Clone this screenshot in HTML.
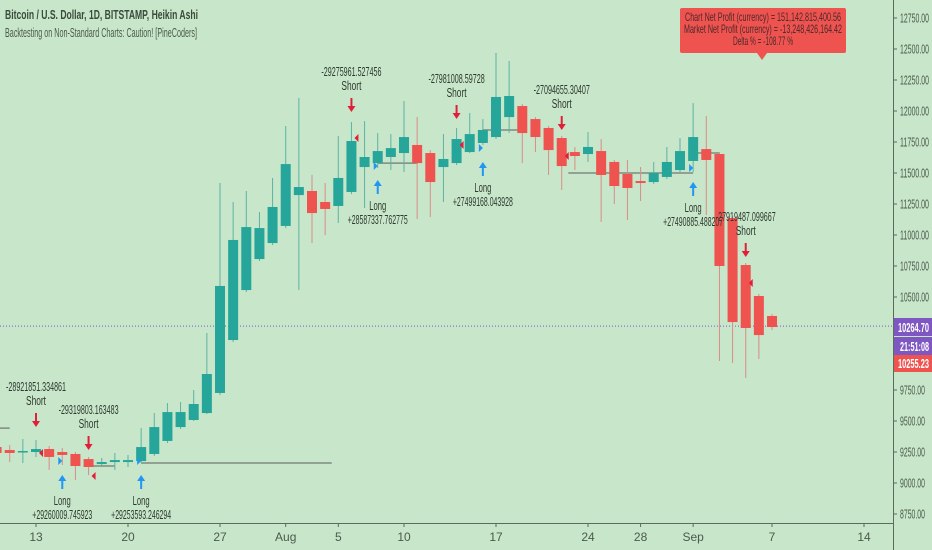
<!DOCTYPE html>
<html><head><meta charset="utf-8"><style>
html,body{margin:0;padding:0;background:#c8e6c9;}
svg{display:block;font-family:"Liberation Sans",sans-serif;}
</style></head><body>
<svg id="chart" width="932" height="550" xmlns="http://www.w3.org/2000/svg">
<rect x="0" y="0" width="932" height="550" fill="#c8e6c9"/>
<g id="plot"></g>
<g id="ann"></g>
<line x1="893.5" y1="0" x2="893.5" y2="550" stroke="#5d6b5e" stroke-width="1"/>
<line x1="0" y1="523.5" x2="893" y2="523.5" stroke="#5d6b5e" stroke-width="1"/>
<g id="yaxis"></g>
<g id="xaxis"></g>
<text x="5" y="19" font-size="13" font-weight="bold" fill="#3a4a3c" textLength="193" lengthAdjust="spacingAndGlyphs">Bitcoin / U.S. Dollar, 1D, BITSTAMP, Heikin Ashi</text>
<text x="5" y="37" font-size="13" fill="#4b5a4d" textLength="192" lengthAdjust="spacingAndGlyphs">Backtesting on Non-Standard Charts: Caution! [PineCoders]</text>
<g>
<rect x="680" y="8" width="166" height="45" rx="2" fill="#ef5350"/>
<polygon points="757,53 767,53 762,60" fill="#ef5350"/>
<text x="763" y="21" font-size="12" fill="#4a2a2a" text-anchor="middle" textLength="156" lengthAdjust="spacingAndGlyphs">Chart Net Profit (currency) = 151,142,815,400.56</text>
<text x="763" y="33" font-size="12" fill="#4a2a2a" text-anchor="middle" textLength="158" lengthAdjust="spacingAndGlyphs">Market Net Profit (currency) = -13,248,426,164.42</text>
<text x="763" y="45" font-size="12" fill="#4a2a2a" text-anchor="middle" textLength="60" lengthAdjust="spacingAndGlyphs">Delta % = -108.77 %</text>
</g>
<g>
<rect x="894" y="318" width="38" height="18" fill="#7e57c2"/>
<text x="898" y="332" font-size="13" font-weight="bold" fill="#fff" textLength="31" lengthAdjust="spacingAndGlyphs">10264.70</text>
<rect x="894" y="337" width="38" height="18" fill="#7e57c2"/>
<text x="900" y="351" font-size="13" font-weight="bold" fill="#fff" textLength="29" lengthAdjust="spacingAndGlyphs">21:51:08</text>
<rect x="894" y="355" width="38" height="17" fill="#ef5350"/>
<text x="898" y="368" font-size="13" font-weight="bold" fill="#fff" textLength="31" lengthAdjust="spacingAndGlyphs">10255.23</text>
</g>
</svg>
<script>
// Data: day index (0 = Jul 13), open, high, low, close
const days   = [-3,-2,-1,0,1,2,3,4,5,6,7,8,9,10,11,12,13,14,15,16,17,18,19,20,21,22,23,24,25,26,27,28,29,30,31,32,33,34,35,36,37,38,39,40,41,42,43,44,45,46,47,48,49,50,51,52,53,54,55,56];
const opens  = [9290,9266,9250,9250,9274,9250,9234,9193,9153,9169,9169,9177,9234,9339,9451,9508,9564,9726,10153,10556,10806,10935,11073,11322,11355,11266,11234,11347,11548,11580,11629,11661,11726,11661,11548,11580,11669,11742,11790,11951,12040,11935,11863,11782,11669,11653,11677,11589,11492,11435,11427,11468,11524,11597,11693,11653,11137,10758,10508,10347];
const closes = [9242,9242,9258,9274,9210,9226,9137,9129,9169,9185,9185,9290,9451,9572,9572,9637,9879,10589,10960,11064,11056,11226,11572,11387,11177,11210,11460,11758,11629,11677,11701,11790,11580,11427,11613,11774,11814,11847,12113,12121,11822,11790,11685,11556,11637,11710,11484,11395,11379,11419,11500,11589,11677,11790,11605,10750,10298,10250,10193,10258];
const highs  = [9322,9306,9355,9347,9298,9282,9250,9210,9202,9242,9226,9443,9564,9645,9653,9750,10210,11419,11266,11355,11185,11460,11879,12105,11484,11419,11798,11911,11919,11822,11814,12081,11951,11685,11814,11863,11984,11935,12468,12403,12056,11951,11879,11798,11709,11830,11774,11605,11605,11548,11589,11710,11782,12064,11960,11669,11153,10774,10524,10363];
const lows   = [9202,9169,9161,9210,9105,9145,9024,9064,9129,9105,9129,9161,9218,9322,9435,9500,9556,9710,10137,10540,10790,10919,11056,10556,10935,10999,11097,11330,11218,11540,11524,11508,11129,11145,11266,11564,11661,11726,11774,11822,11580,11669,11484,11363,11524,11589,11105,11250,11121,11274,11411,11451,11508,11508,11161,9984,9968,9847,10000,10234];
const yTicks = [8750,9000,9250,9500,9750,10000,10250,10500,10750,11000,11250,11500,11750,12000,12250,12500,12750];
const xTickDays   = [0,7,14,19,23,28,35,42,46,50,56,63];
const xTickLabels = ["13","20","27","Aug","5","10","17","24","28","Sep","7","14"];
const lastPrice = 10264.7;

const NS = "http://www.w3.org/2000/svg";
function yScale(p){ return 18 + (12750 - p) * 31 / 250; }
function xScale(d){ return 36 + d * 13.143; }
function mk(tag, attrs, parent){ const e=document.createElementNS(NS,tag); for(const k in attrs) e.setAttribute(k, attrs[k]); parent.appendChild(e); return e; }

const plot = document.getElementById('plot');
const ann = document.getElementById('ann');
const yaxis = document.getElementById('yaxis');
const xaxis = document.getElementById('xaxis');

const lp = mk('line',{x1:0,x2:893,y1:yScale(lastPrice),y2:yScale(lastPrice),stroke:'#7e57c2','stroke-width':1,'stroke-dasharray':'1,2'},plot);



const posStart = [-4,4.3,8,26,34,40.5,50];
const posEnd   = [-2,6,22.5,29,37,50,52];
const posPrice = [9443,9137,9161,11580,11847,11500,11661];
for(let i=0;i<posStart.length;i++){
  const l=mk('line',{x1:xScale(posStart[i]),x2:xScale(posEnd[i]),y1:yScale(posPrice[i]),y2:yScale(posPrice[i]),stroke:'#7f8a80','stroke-width':1.5},plot);
  
  
}

for(let i=0;i<days.length;i++){
  const up = closes[i] >= opens[i];
  const x = xScale(days[i]);
  const g = mk('g',{},plot);
  
  
  mk('line',{x1:x,x2:x,y1:yScale(highs[i]),y2:yScale(lows[i]),stroke: up?'#5bb3a3':'#d98c88','stroke-width':1},g);
  const top = yScale(Math.max(opens[i],closes[i]));
  const bot = yScale(Math.min(opens[i],closes[i]));
  mk('rect',{x:x-5,y:top,width:10,height:Math.max(1.5,bot-top),fill: up?'#26a69a':'#ef5350'},g);
}

yTicks.forEach(v=>{
  const y=yScale(v);
  const t=mk('line',{x1:893,x2:897,y1:y,y2:y,stroke:'#5d6b5e'},yaxis);
  
  
  const s=v.toFixed(2);
  const tx=mk('text',{x:900,y:y+4.5,'font-size':13,fill:'#4b5a4d',textLength:s.length>7?29:25,lengthAdjust:'spacingAndGlyphs'},yaxis);
  tx.textContent=s;
  
  
});
xTickDays.forEach((d,i)=>{
  const x=xScale(d);
  const t=mk('line',{x1:x,x2:x,y1:523,y2:527,stroke:'#5d6b5e'},xaxis);
  
  
  const tx=mk('text',{x:x,y:541,'font-size':12,fill:'#4b5a4d','text-anchor':'middle'},xaxis);
  tx.textContent=xTickLabels[i];
  
  
});

const shortDays = [0,4,24,32,40,54];
const shortVals = ["-28921851.334861","-29319803.163483","-29275961.527456","-27981008.59728","-27094655.30407","-27919487.099667"];
const shortY    = [413,436,98,105,116,243];
const longDays  = [2,8,26,34,50];
const longVals  = ["+29260009.745923","+29253593.246294","+28587337.762775","+27499168.043928","+27490885.488207"];
const longY     = [475,475,180,162,182];
function arrow(x,y,down,color){
  const g=mk('g',{},ann);
  
  
  if(down){
    mk('line',{x1:x,x2:x,y1:y,y2:y+10,stroke:color,'stroke-width':2},g);
    mk('polygon',{points:`${x-4},${y+8} ${x+4},${y+8} ${x},${y+14}`,fill:color},g);
  } else {
    mk('line',{x1:x,x2:x,y1:y+4,y2:y+14,stroke:color,'stroke-width':2},g);
    mk('polygon',{points:`${x-4},${y+6} ${x+4},${y+6} ${x},${y}`,fill:color},g);
  }
}
shortDays.forEach((d,i)=>{
  const x=xScale(d), y=shortY[i];
  arrow(x,y,true,'#e0203a');
  const t1=mk('text',{x:x,y:y-22,'font-size':13,fill:'#2e3a30','text-anchor':'middle',textLength:shortVals[i].length*3.75,lengthAdjust:'spacingAndGlyphs'},ann);
  t1.textContent=shortVals[i];
  
  
  const t2=mk('text',{x:x,y:y-8,'font-size':13,fill:'#2e3a30','text-anchor':'middle',textLength:20,lengthAdjust:'spacingAndGlyphs'},ann);
  t2.textContent='Short';
  
  
  const tri=mk('polygon',{points:`${x+7},${y+36} ${x+7},${y+44} ${x+3},${y+40}`,fill:'#e0203a'},ann);
  
  
});
longDays.forEach((d,i)=>{
  const x=xScale(d), y=longY[i];
  arrow(x,y,false,'#2196f3');
  const t1=mk('text',{x:x,y:y+30,'font-size':13,fill:'#2e3a30','text-anchor':'middle',textLength:17,lengthAdjust:'spacingAndGlyphs'},ann);
  t1.textContent='Long';
  
  
  const t2=mk('text',{x:x,y:y+44,'font-size':13,fill:'#2e3a30','text-anchor':'middle',textLength:longVals[i].length*3.75,lengthAdjust:'spacingAndGlyphs'},ann);
  t2.textContent=longVals[i];
  
  
  const tri=mk('polygon',{points:`${x-4},${y-18} ${x-4},${y-10} ${x},${y-14}`,fill:'#2196f3'},ann);
  
  
});
</script>
</body></html>
